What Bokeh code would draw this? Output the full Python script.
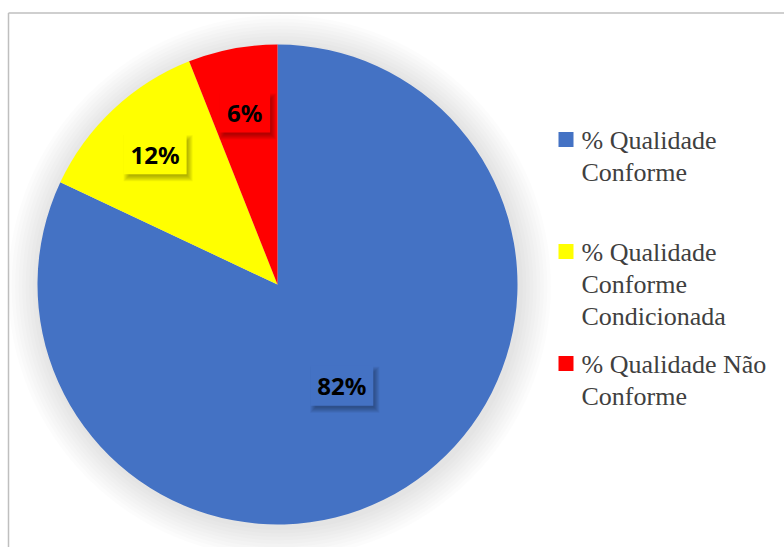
import numpy as np
from bokeh.plotting import figure
from bokeh.models import Range1d
from bokeh.core.properties import value
from bokeh.embed import file_html
from bokeh.resources import INLINE

# ---- data ----
categories = ["% Qualidade\nConforme", "% Qualidade\nConforme\nCondicionada", "% Qualidade Não\nConforme"]
shares = [82, 12, 6]
labels = ["82%", "12%", "6%"]
colors = ["#4472C4", "#FFFF00", "#FF0000"]

# ---- layout ----
W, H = 784, 547
CX, CY, R = 277, 263, 240
label_rfrac = [0.5, 0.745, 0.73]
legend_first_y = [407, 295, 183]
line_h = 32

p = figure(width=W, height=H, output_backend="svg", toolbar_location=None,
           x_range=Range1d(0, W), y_range=Range1d(0, H),
           x_axis_type=None, y_axis_type=None, min_border=0)
p.grid.visible = False
p.outline_line_color = None
p.background_fill_color = "white"
p.border_fill_color = "white"

# chart border (top and left visible)
p.line([8, W], [H - 12.5, H - 12.5], line_color="#bfbfbf", line_width=1.5)
p.line([8, 8], [0, H - 12.5], line_color="#bfbfbf", line_width=1.5)

# soft glow around the pie
for k in range(1, 10):
    p.circle(x=CX + 2, y=CY - 2, radius=R + k * 3.5, fill_color="black",
             fill_alpha=0.011, line_color=None)

vals = np.array(shares, dtype=float)
frac = vals / vals.sum()
cum = np.concatenate([[0], np.cumsum(frac)])
start = np.pi / 2 - cum[:-1] * 2 * np.pi
end = np.pi / 2 - cum[1:] * 2 * np.pi

p.wedge(x=[CX] * len(vals), y=[CY] * len(vals), radius=R,
        start_angle=list(start), end_angle=list(end), direction="clock",
        fill_color=colors, line_color=None)

# data labels with soft-shadowed boxes
mid = (start + end) / 2
for i, t in enumerate(labels):
    lx = CX + R * label_rfrac[i] * np.cos(mid[i])
    ly = CY + R * label_rfrac[i] * np.sin(mid[i])
    bw = 12 * len(t) + 27
    bh = 40
    for k in range(6):
        p.rect(x=lx + 3, y=ly - 4, width=bw - 4 + 2 * k, height=bh - 4 + 2 * k,
               fill_color="black", fill_alpha=0.055, line_color=None)
    p.rect(x=lx, y=ly, width=bw, height=bh, fill_color=colors[i], line_color=None)
    p.text(x=[lx], y=[ly], text=[t], text_font=value("Noto Sans"), text_font_style="bold",
           text_font_size="24px", text_color="black", text_align="center",
           text_baseline="middle")

# legend
for i, cat in enumerate(categories):
    y0 = legend_first_y[i]
    p.rect(x=565.5, y=y0 + 1, width=15, height=15, fill_color=colors[i], line_color=None)
    for j, line in enumerate(cat.split("\n")):
        p.text(x=[581], y=[y0 - j * line_h], text=[line], text_font=value("Liberation Serif"),
               text_font_size="26px", text_color="#404040", text_align="left",
               text_baseline="middle")

open("out.html", "w").write(file_html(p, INLINE))
